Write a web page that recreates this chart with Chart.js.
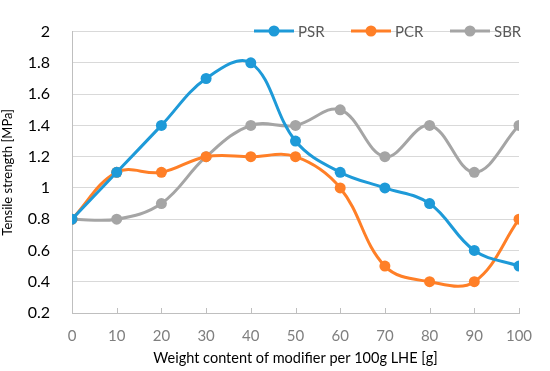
<!DOCTYPE html>
<html>
<head>
<meta charset="utf-8">
<script src="https://cdn.jsdelivr.net/npm/chart.js@4/dist/chart.umd.min.js"></script>
<style>
html,body{margin:0;padding:0;background:#fff;}
#wrap{width:550px;height:371px;position:relative;}
</style>
</head>
<body>
<div id="wrap"><canvas id="c" width="550" height="371"></canvas></div>
<script>
const categories = [0, 10, 20, 30, 40, 50, 60, 70, 80, 90, 100];
const psr = [0.8, 1.1, 1.4, 1.7, 1.8, 1.3, 1.1, 1.0, 0.9, 0.6, 0.5];
const pcr = [0.8, 1.1, 1.1, 1.2, 1.2, 1.2, 1.0, 0.5, 0.4, 0.4, 0.8];
const sbr = [0.8, 0.8, 0.9, 1.2, 1.4, 1.4, 1.5, 1.2, 1.4, 1.1, 1.4];
const seriesNames = ['PSR', 'PCR', 'SBR'];
const yTicks = [0.2, 0.4, 0.6, 0.8, 1, 1.2, 1.4, 1.6, 1.8, 2];

const colors = ['#1E9AD8', '#FF7F27', '#A5A5A5'];
const FONT = 'Lato, "Open Sans", sans-serif';

function pts(arr){ return categories.map((x,i)=>({x:x, y:arr[i]})); }

const datasets = [psr, pcr, sbr].map((arr,i)=>({
  label: seriesNames[i],
  data: pts(arr),
  borderColor: colors[i],
  backgroundColor: colors[i],
  pointBackgroundColor: colors[i],
  pointBorderColor: colors[i],
  pointRadius: 5.5,
  pointBorderWidth: 0,
  borderWidth: 3,
  tension: 0.38,
  cubicInterpolationMode: 'default',
  fill: false
}));

const legendPlugin = {
  id: 'customLegend',
  afterDraw(chart){
    const ctx = chart.ctx;
    const xs = [254, 351, 450];
    const y = 31;
    ctx.save();
    chart.data.datasets.forEach((ds,i)=>{
      const x0 = xs[i];
      ctx.strokeStyle = ds.borderColor;
      ctx.lineWidth = 3;
      ctx.beginPath(); ctx.moveTo(x0, y); ctx.lineTo(x0+40, y); ctx.stroke();
      ctx.fillStyle = ds.borderColor;
      ctx.beginPath(); ctx.arc(x0+20, y, 5.5, 0, Math.PI*2); ctx.fill();
      ctx.fillStyle = '#595959';
      ctx.font = '15px ' + FONT;
      ctx.textBaseline = 'middle';
      ctx.textAlign = 'left';
      ctx.fillText(ds.label, x0+44, y+1);
    });
    ctx.restore();
  }
};

const tickPlugin = {
  id: 'insideTicks',
  afterDatasetsDraw(chart){
    const xs = chart.scales.x;
    const ctx = chart.ctx;
    const yb = chart.chartArea.bottom;
    ctx.save();
    ctx.strokeStyle = '#BFBFBF';
    ctx.lineWidth = 1;
    categories.forEach(v=>{
      const px = Math.round(xs.getPixelForValue(v)) + 0.5;
      ctx.beginPath(); ctx.moveTo(px, yb); ctx.lineTo(px, yb-5); ctx.stroke();
    });
    ctx.restore();
  }
};

new Chart(document.getElementById('c'), {
  type: 'line',
  data: { datasets: datasets },
  options: {
    responsive: false,
    animation: false,
    layout: { padding: { top: 15, right: 31, left: 0, bottom: 0 } },
    plugins: { legend: { display: false }, tooltip: { enabled: false } },
    scales: {
      x: {
        type: 'linear',
        min: 0, max: 100,
        afterBuildTicks(scale){ scale.ticks = categories.map(v=>({value:v})); },
        afterFit(scale){ scale.height = 58; },
        grid: { drawOnChartArea: false, drawTicks: false },
        border: { color: '#BFBFBF', width: 1 },
        ticks: { color: '#7F7F7F', font: { family: FONT, size: 15 }, padding: 14, maxRotation: 0 },
        title: { display: true, text: 'Weight content of modifier per 100g LHE [g]', color: '#000', font: { family: FONT, size: 14.5 }, padding: { top: 0, bottom: 4 } }
      },
      y: {
        min: 0.2, max: 2,
        afterBuildTicks(scale){ scale.ticks = yTicks.map(v=>({value:v})); },
        afterFit(scale){ scale.width = 72; },
        grid: { color: '#D9D9D9', lineWidth: 1, drawTicks: false },
        border: { color: '#BFBFBF', width: 1 },
        ticks: { color: '#000', font: { family: FONT, size: 16 }, padding: 22,
          callback: v => String(Math.round(v*10)/10) },
        title: { display: true, text: 'Tensile strength [MPa]', color: '#000', font: { family: FONT, size: 13 }, padding: { top: 0, bottom: 2 } }
      }
    }
  },
  plugins: [legendPlugin, tickPlugin]
});
</script>
</body>
</html>
